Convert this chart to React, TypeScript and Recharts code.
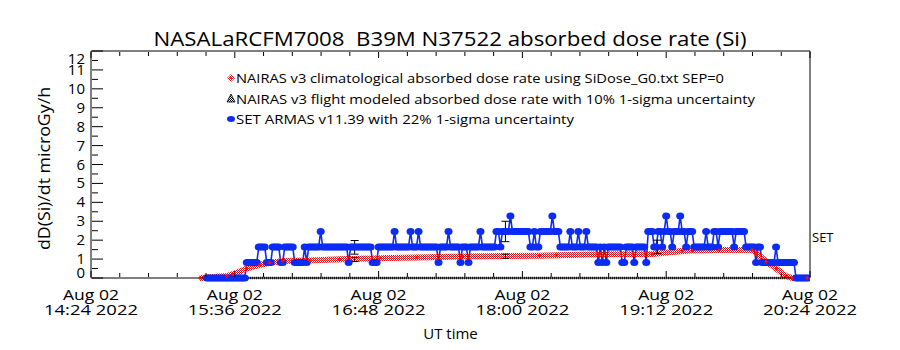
import React from 'react';
import { ComposedChart, Line, Scatter, XAxis, YAxis, ErrorBar, Legend, ReferenceDot } from 'recharts';

const FONT = '"Open Sans", "DejaVu Sans", sans-serif';
const BLUE = '#0a2cf5';
const RED = '#e3141b';

const TITLE = 'NASALaRCFM7008  B39M N37522 absorbed dose rate (Si)';
const Y_LABEL = 'dD(Si)/dt microGy/h';
const X_LABEL = 'UT time';
const X_DATE_LINE = 'Aug 02';
const X_TIME_LABELS = ['14:24 2022', '15:36 2022', '16:48 2022', '18:00 2022', '19:12 2022', '20:24 2022'];
const X_TICKS = [0, 14.4, 28.8, 43.2, 57.6, 72, 86.4, 100.8, 115.2, 129.6, 144, 158.4, 172.8, 187.2, 201.6, 216, 230.4, 244.8, 259.2, 273.6, 288, 302.4, 316.8, 331.2, 345.6, 360];
const Y_TICKS = [0, 0.5, 1, 1.5, 2, 2.5, 3, 3.5, 4, 4.5, 5, 5.5, 6, 6.5, 7, 7.5, 8, 8.5, 9, 9.5, 10, 10.5, 11, 11.5, 12];
const LEGEND_TEXTS = [
  'NAIRAS v3 climatological absorbed dose rate using SiDose_G0.txt SEP=0',
  'NAIRAS v3 flight modeled absorbed dose rate with 10% 1-sigma uncertainty',
  'SET ARMAS v11.39 with 22% 1-sigma uncertainty',
];
const SET_TEXT = 'SET';

// minutes after 14:24 UT; SET ARMAS 1-minute samples start here
const BLUE_START_MIN = 58;
const blueValues = [
  0, 0, 0, 0, 0, 0, 0, 0, 0, 0,
  0, 0, 0, 0, 0, 0, 0, 0, 0, 0,
  0.82, 0.82, 0.82, 0.82, 0.82, 0.82, 1.64, 1.64, 1.64, 1.64,
  0.82, 0.82, 0.82, 1.64, 1.64, 1.64, 1.64, 0.82, 0.82, 1.64,
  1.64, 1.64, 1.64, 1.64, 0.82, 0.82, 0.82, 0.82, 0.82, 1.64,
  0.82, 1.64, 1.64, 1.64, 1.64, 1.64, 1.64, 2.46, 1.64, 1.64,
  1.64, 1.64, 1.64, 1.64, 1.64, 1.64, 1.64, 1.64, 1.64, 1.64,
  1.64, 0.82, 1.64, 1.64, 1.64, 1.64, 1.64, 1.64, 1.64, 1.64,
  1.64, 1.64, 1.64, 0.82, 0.82, 0.82, 1.64, 1.64, 1.64, 1.64,
  1.64, 1.64, 1.64, 1.64, 2.46, 1.64, 1.64, 1.64, 1.64, 1.64,
  1.64, 1.64, 2.46, 1.64, 1.64, 1.64, 2.46, 1.64, 1.64, 1.64,
  1.64, 1.64, 1.64, 1.64, 1.64, 1.64, 0.82, 1.64, 1.64, 1.64,
  1.64, 2.46, 1.64, 1.64, 1.64, 1.64, 1.64, 0.82, 1.64, 1.64,
  1.64, 0.82, 1.64, 1.64, 1.64, 1.64, 1.64, 2.46, 1.64, 1.64,
  1.64, 1.64, 1.64, 1.64, 1.64, 2.46, 2.46, 1.64, 2.46, 2.46,
  2.46, 2.46, 3.28, 2.46, 2.46, 2.46, 2.46, 2.46, 2.46, 2.46,
  2.46, 2.46, 1.64, 1.64, 2.46, 1.64, 1.64, 2.46, 2.46, 2.46,
  2.46, 2.46, 2.46, 3.28, 2.46, 2.46, 2.46, 1.64, 1.64, 1.64,
  1.64, 1.64, 2.46, 1.64, 1.64, 1.64, 2.46, 1.64, 1.64, 1.64,
  2.46, 1.64, 1.64, 1.64, 1.64, 1.64, 0.82, 1.64, 0.82, 1.64,
  0.82, 1.64, 1.64, 1.64, 1.64, 1.64, 1.64, 1.64, 0.82, 0.82,
  1.64, 1.64, 1.64, 1.64, 0.82, 1.64, 1.64, 1.64, 1.64, 1.64,
  0.82, 2.46, 2.46, 2.46, 1.64, 1.64, 2.46, 2.46, 1.64, 2.46,
  3.28, 2.46, 2.46, 1.64, 2.46, 2.46, 2.46, 3.28, 2.46, 2.46,
  1.64, 2.46, 2.46, 2.46, 1.64, 1.64, 1.64, 1.64, 1.64, 1.64,
  2.46, 1.64, 1.64, 1.64, 2.46, 2.46, 1.64, 2.46, 2.46, 2.46,
  2.46, 2.46, 2.46, 2.46, 1.64, 2.46, 2.46, 2.46, 2.46, 2.46,
  1.64, 1.64, 1.64, 1.64, 1.64, 0.82, 1.64, 1.64, 0.82, 0.82,
  0.82, 0.82, 0.82, 0.82, 0.82, 1.64, 0.82, 0.82, 0.82, 0.82,
  0.82, 0.82, 0.82, 0.82, 0.82, 0, 0, 0, 0, 0,
  0, 0,
];

const redTimes = [54.5, 68, 71, 78, 84.5, 89.5, 96, 109.5, 124.5, 144.5, 163, 186, 224.5, 233, 254.5, 281, 296, 301, 314.5, 331, 333, 338, 343, 348, 351, 358.5];
const redValues = [0, 0.1, 0.2, 0.5, 0.7, 0.8, 0.9, 0.93, 0.99, 1.04, 1.08, 1.13, 1.18, 1.2, 1.25, 1.27, 1.43, 1.45, 1.48, 1.48, 1.34, 0.86, 0.5, 0.1, 0, 0];

const barTimes = [132, 207.5, 283.5];
const setBarValues = [1.62, 2.46, 1.64];
const setBarErrors = [0.36, 0.54, 0.36];
const flightBarValues = [0.98, 1.15, 1.45];
const flightBarErrors = [0.11, 0.11, 0.15];

const flightFloorTimes = [54.5, 360];
const flightFloorValues = [0, 0];

const setLabelPos = { t: 360, v: 2.17 };

const blueData = blueValues.map((v, i) => ({ t: BLUE_START_MIN + i, v }));
const redData = redTimes.map((t, i) => ({ t, v: redValues[i] }));
const setBars = barTimes.map((t, i) => ({ t, v: setBarValues[i], e: setBarErrors[i] }));
const flightBars = barTimes.map((t, i) => ({ t, v: flightBarValues[i], e: flightBarErrors[i] }));
const flightFloor = flightFloorTimes.map((t, i) => ({ t, v: flightFloorValues[i] }));

const BlueDot = (p: any) => {
  const { cx, cy, index } = p;
  if (cx == null || cy == null) return <g key={`bd${index}`} />;
  return <ellipse key={`bd${index}`} cx={cx} cy={cy} rx={4} ry={3.5} fill={BLUE} />;
};

const RedDot = (p: any) => {
  const { cx, cy, index } = p;
  if (cx == null || cy == null) return <g key={`rd${index}`} />;
  return (
    <path key={`rd${index}`} d={`M${cx},${cy - 2} L${cx + 2},${cy} L${cx},${cy + 2} L${cx - 2},${cy} Z`} fill="#ff0a0a" />
  );
};

const NoShape = () => <g />;

const BottomTick = (p: any) => {
  const { x, y, payload } = p;
  const v = payload.value;
  const idx = Math.round(v / 72);
  const major = Math.abs(v - idx * 72) < 0.01;
  const ay = y - 1;
  return (
    <g>
      <line x1={x} x2={x} y1={ay} y2={ay - (major ? 6 : 4)} stroke="#000" />
      {major && (
        <text x={x} y={ay + 23} textAnchor="middle" fontSize={14} fontFamily={FONT} fill="#000" textLength={56} lengthAdjust="spacingAndGlyphs">
          {X_DATE_LINE}
        </text>
      )}
      {major && (
        <text x={x} y={ay + 38} textAnchor="middle" fontSize={14} fontFamily={FONT} fill="#000" textLength={94} lengthAdjust="spacingAndGlyphs">
          {X_TIME_LABELS[idx]}
        </text>
      )}
    </g>
  );
};

const TopTick = (p: any) => {
  const { x, y, payload } = p;
  const v = payload.value;
  const idx = Math.round(v / 72);
  const major = Math.abs(v - idx * 72) < 0.01;
  const ay = y + 1;
  return <line x1={x} x2={x} y1={ay} y2={ay + (major ? 6 : 4)} stroke="#000" />;
};

const LeftTick = (p: any) => {
  const { x, y, payload } = p;
  const v = payload.value;
  const major = Number.isInteger(v);
  const shift = v === 12 ? 8 : v === 0 ? -5 : 0;
  const ax = x + 1;
  return (
    <g>
      <line x1={ax} x2={ax + (major ? 11 : 6)} y1={y} y2={y} stroke="#000" />
      {major && (
        <text x={ax - 7} y={y + shift + 5} textAnchor="end" fontSize={15} fontFamily={FONT} fill="#000">
          {v}
        </text>
      )}
    </g>
  );
};

const RightTick = (p: any) => {
  const { x, y, payload } = p;
  const major = Number.isInteger(payload.value);
  const ax = x - 1;
  return <line x1={ax} x2={ax - (major ? 11 : 6)} y1={y} y2={y} stroke="#000" />;
};

const LegendContent = () => (
  <svg width={560} height={62} style={{ display: 'block' }}>
    <path d="M11,8 L15,12 L11,16 L7,12 Z" fill="url(#redChecker)" />
    <circle cx={11} cy={12} r={1} fill="#ff0a0a" />
    <text x={16} y={17} fontSize={13} fontFamily={FONT} textLength={488} lengthAdjust="spacingAndGlyphs">{LEGEND_TEXTS[0]}</text>
    <path d="M11,28 L15,36 L7,36 Z" fill="url(#blackChecker)" stroke="#000" strokeWidth={0.8} />
    <text x={16} y={38} fontSize={13} fontFamily={FONT} textLength={519} lengthAdjust="spacingAndGlyphs">{LEGEND_TEXTS[1]}</text>
    <ellipse cx={11} cy={53} rx={4} ry={3} fill={BLUE} />
    <text x={16} y={58} fontSize={13} fontFamily={FONT} textLength={338} lengthAdjust="spacingAndGlyphs">{LEGEND_TEXTS[2]}</text>
  </svg>
);

const YLabel = (p: any) => {
  const vb = p.viewBox || { x: 90, y: 51, width: 1, height: 227 };
  const cx = 50;
  const cy = vb.y + vb.height / 2 + 4;
  return (
    <text x={cx} y={cy} transform={`rotate(-90 ${cx} ${cy})`} textAnchor="middle" fontSize={16} fontFamily={FONT} fill="#000" textLength={163} lengthAdjust="spacingAndGlyphs">
      {Y_LABEL}
    </text>
  );
};

const XLabel = (p: any) => {
  const vb = p.viewBox || { x: 91, y: 278, width: 719, height: 1 };
  return (
    <text x={vb.x + vb.width / 2} y={339} textAnchor="middle" fontSize={15} fontFamily={FONT} fill="#000">
      {X_LABEL}
    </text>
  );
};

export default function App() {
  return (
    <div style={{ position: 'absolute', left: 0, top: 0, width: 900, height: 350, background: '#fff' }}>
      <svg width={0} height={0} style={{ position: 'absolute' }}>
        <defs>
          <pattern id="redChecker" x={0} y={0} width={2} height={2} patternUnits="userSpaceOnUse">
            <rect x={0} y={0} width={1} height={1} fill={RED} />
            <rect x={1} y={1} width={1} height={1} fill={RED} />
          </pattern>
          <pattern id="blackChecker" x={0} y={0} width={2} height={2} patternUnits="userSpaceOnUse">
            <rect x={0} y={0} width={1} height={1} fill="#000" />
            <rect x={1} y={1} width={1} height={1} fill="#000" />
          </pattern>
        </defs>
      </svg>
      <div style={{ position: 'absolute', left: 0, top: 10, width: 900 }}>
        <svg width={900} height={44} style={{ display: 'block' }}>
          <text x={450} y={36} textAnchor="middle" fontSize={20} fontFamily={FONT} fill="#000" textLength={593} lengthAdjust="spacingAndGlyphs" style={{ whiteSpace: 'pre' }}>
            {TITLE}
          </text>
        </svg>
      </div>
      <div style={{ position: 'absolute', left: 0, top: 0 }}>
        <ComposedChart width={900} height={350} margin={{ top: 50, right: 89, bottom: 71, left: 90 }}>
          <XAxis xAxisId="b" orientation="bottom" type="number" dataKey="t" domain={[0, 360]} allowDataOverflow ticks={X_TICKS} interval={0} height={1} tickSize={0} tickMargin={0} tickLine={false} axisLine={{ stroke: '#000' }} tick={BottomTick} label={XLabel} />
          <XAxis xAxisId="top" orientation="top" type="number" dataKey="t" domain={[0, 360]} allowDataOverflow ticks={X_TICKS} interval={0} height={1} tickSize={0} tickMargin={0} tickLine={false} axisLine={{ stroke: '#000' }} tick={TopTick} />
          <YAxis yAxisId="l" orientation="left" type="number" domain={[0, 12]} ticks={Y_TICKS} interval={0} width={1} tickSize={0} tickMargin={0} tickLine={false} axisLine={{ stroke: '#000' }} tick={LeftTick} label={YLabel} />
          <YAxis yAxisId="r" orientation="right" type="number" domain={[0, 12]} ticks={Y_TICKS} interval={0} width={1} tickSize={0} tickMargin={0} tickLine={false} axisLine={{ stroke: '#000' }} tick={RightTick} />
          <Legend verticalAlign="middle" align="center" layout="horizontal" wrapperStyle={{ position: 'absolute', left: 220, top: 66, width: 560, height: 62 }} content={LegendContent} />
          <Line xAxisId="b" yAxisId="l" data={blueData} dataKey="v" name={LEGEND_TEXTS[2]} stroke={BLUE} strokeWidth={1.6} dot={BlueDot} activeDot={false} isAnimationActive={false} />
          <Line xAxisId="b" yAxisId="l" data={flightFloor} dataKey="v" name="floor" stroke="#000" strokeWidth={2.5} strokeDasharray="1 1" dot={false} activeDot={false} isAnimationActive={false} />
          <Line xAxisId="b" yAxisId="l" data={redData} dataKey="v" name={LEGEND_TEXTS[0]} stroke="url(#redChecker)" strokeWidth={6} dot={RedDot} activeDot={false} isAnimationActive={false} />
          <Scatter xAxisId="b" yAxisId="l" data={setBars} dataKey="v" name="setbars" shape={NoShape} isAnimationActive={false}>
            <ErrorBar dataKey="e" direction="y" width={4} stroke="#000" strokeWidth={1} />
          </Scatter>
          <Scatter xAxisId="b" yAxisId="l" data={flightBars} dataKey="v" name={LEGEND_TEXTS[1]} shape={NoShape} isAnimationActive={false}>
            <ErrorBar dataKey="e" direction="y" width={4} stroke="#000" strokeWidth={1} />
          </Scatter>
          <ReferenceDot xAxisId="b" yAxisId="l" x={setLabelPos.t} y={setLabelPos.v} r={1} fill="none" stroke="none" ifOverflow="visible" label={{ value: SET_TEXT, position: 'right', offset: 1, fontSize: 13, fontFamily: FONT, fill: '#000' }} />
        </ComposedChart>
      </div>
    </div>
  );
}
